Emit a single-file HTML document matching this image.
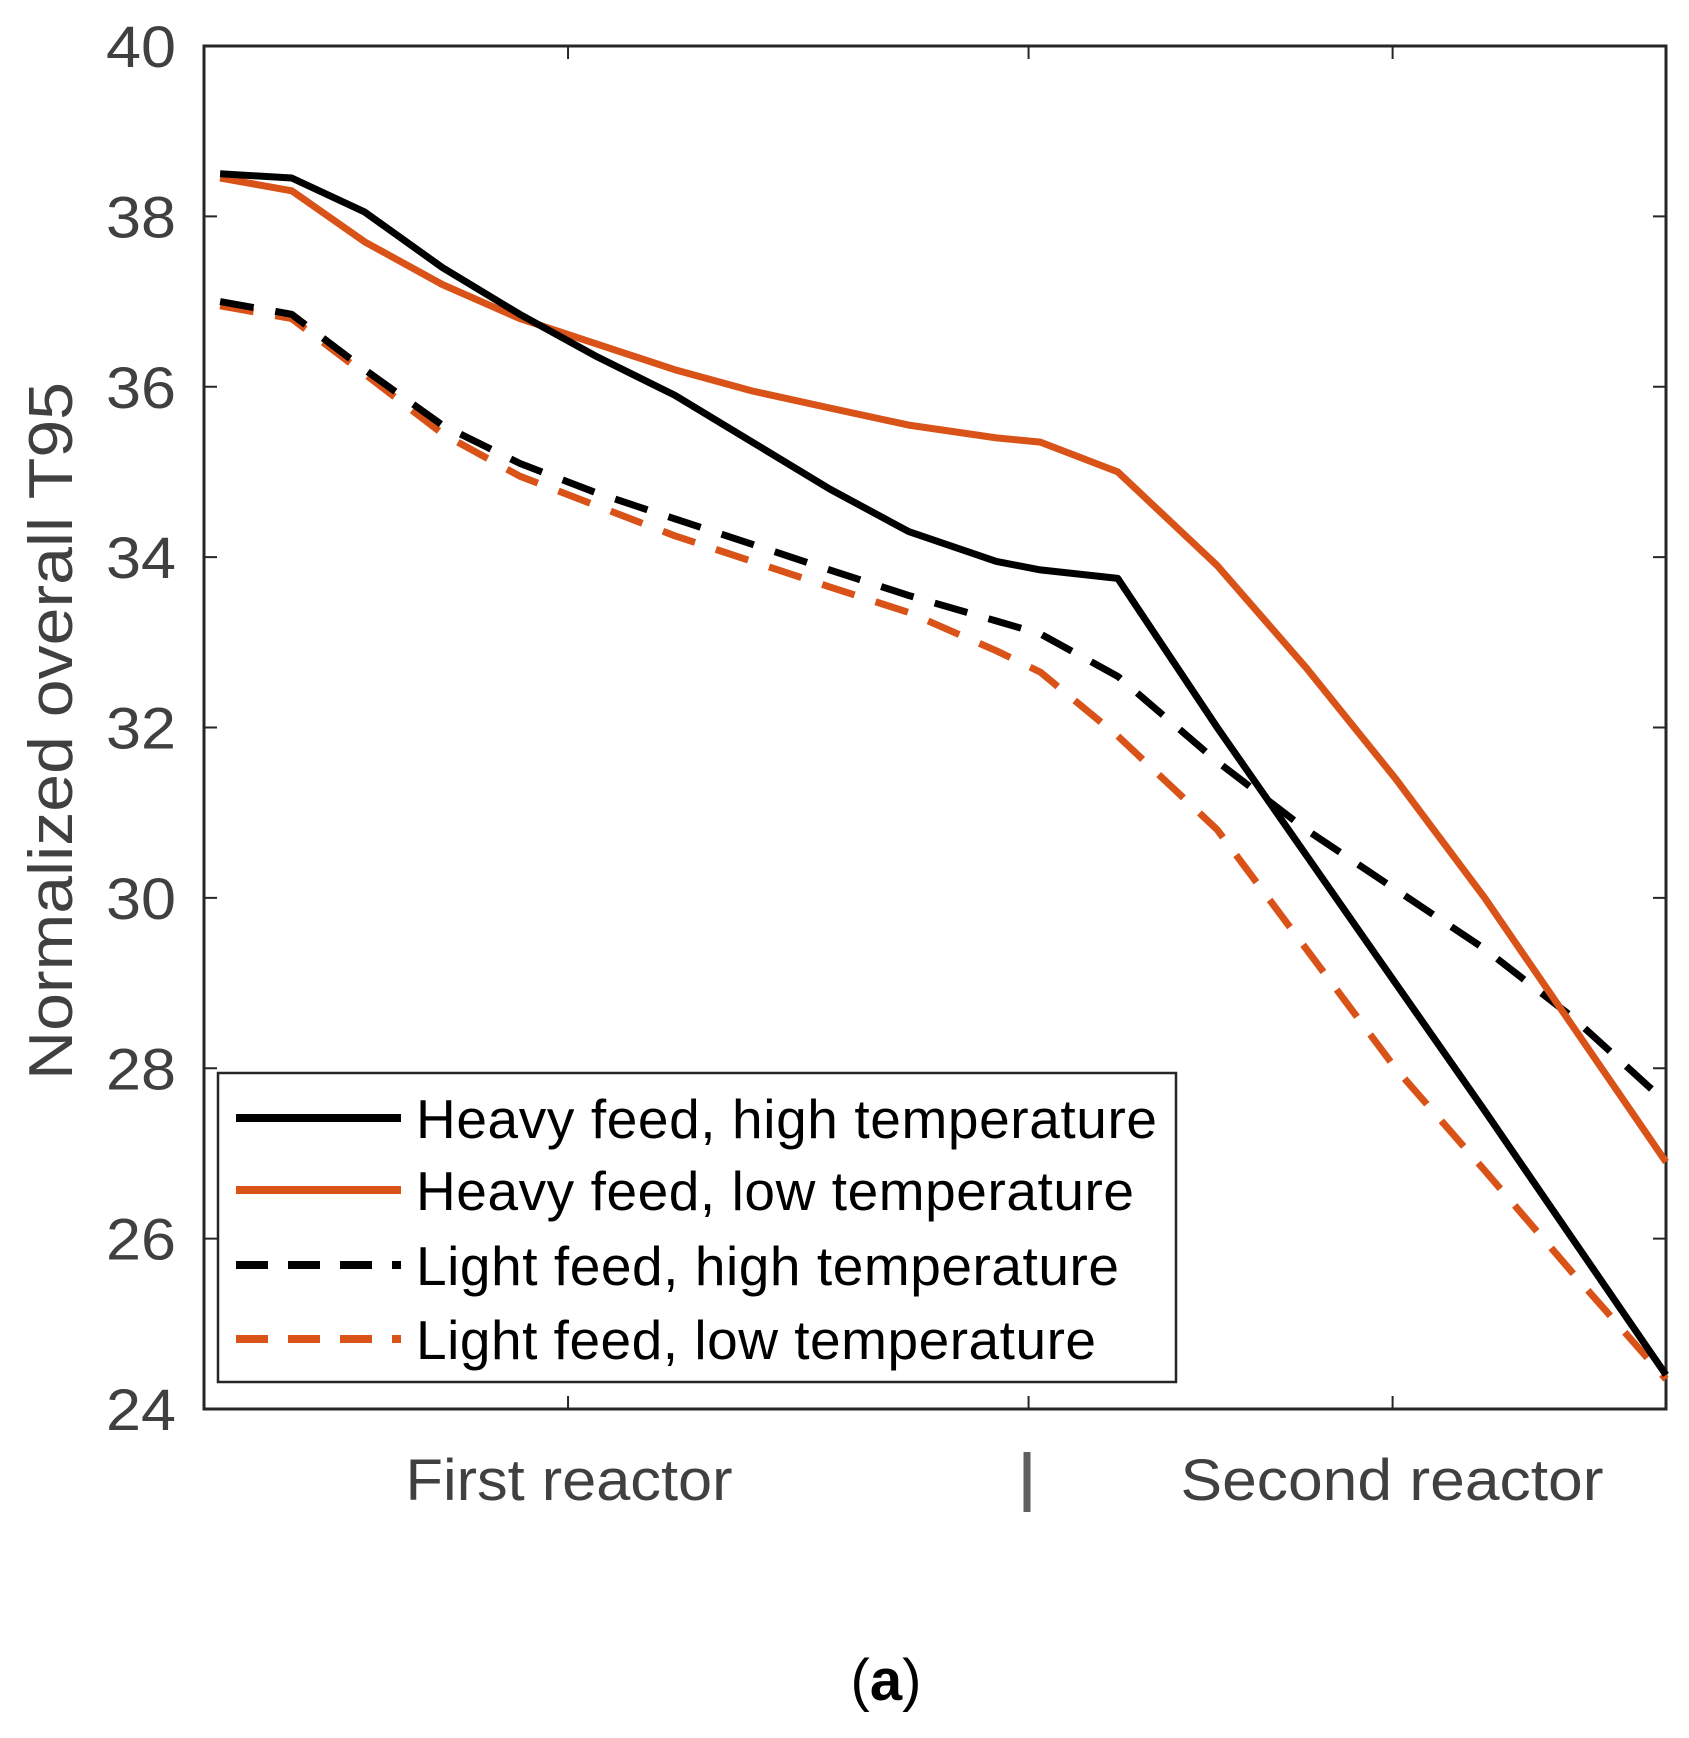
<!DOCTYPE html>
<html><head><meta charset="utf-8"><style>
html,body{margin:0;padding:0;background:#fff}
svg{display:block}
text{font-family:"Liberation Sans",sans-serif}
</style></head><body>
<svg id="chart" width="1689" height="1738" viewBox="0 0 1689 1738" xmlns="http://www.w3.org/2000/svg">
<g id="axes"></g>
<g id="series"></g>
<g id="legend"></g>
</svg>
<script>
// Data (x: position along reactors 0..100, y: normalized T95)
const xPos = [1.1,6.0,11.0,16.3,21.6,26.9,32.2,37.5,42.8,48.2,54.2,57.2,62.5,69.3,75.4,81.5,87.6,93.6,100];
const heavyHigh = [38.5,38.45,38.05,37.4,36.85,36.35,35.9,35.35,34.8,34.3,33.95,33.85,33.75,32.0,30.5,29.0,27.5,26.0,24.4];
const heavyLow = [38.45,38.3,37.7,37.2,36.8,36.5,36.2,35.95,35.75,35.55,35.4,35.35,35.0,33.9,32.7,31.4,30.0,28.5,26.9];
const lightHigh = [37.0,36.85,36.2,35.55,35.1,34.75,34.45,34.15,33.85,33.55,33.25,33.1,32.6,31.6,30.8,30.1,29.4,28.6,27.6];
const lightLow = [36.95,36.8,36.15,35.45,34.95,34.6,34.25,33.95,33.65,33.35,32.9,32.65,31.9,30.8,29.4,28.0,26.8,25.6,24.35];
const yTicks = [24,26,28,30,32,34,36,38,40];
const yTickLabels = ["24","26","28","30","32","34","36","38","40"];
const xTicks = [24.9,56.4,81.3];
const seriesNames = ["Heavy feed, high temperature","Heavy feed, low temperature","Light feed, high temperature","Light feed, low temperature"];

const L=204,R=1666,T=46,B=1409;
const sx=v=>L+(v/100)*(R-L);
const sy=v=>B-(v-24)/16*(B-T);
const NS="http://www.w3.org/2000/svg";
function mk(tag,attrs,parent){const e=document.createElementNS(NS,tag);for(const k in attrs)e.setAttribute(k,attrs[k]);parent.appendChild(e);return e;}
const axes=document.getElementById('axes');
const frame=mk('rect',{x:L,y:T,width:R-L,height:B-T,fill:'none',stroke:'#262626','stroke-width':3},axes);


yTicks.forEach((v,i)=>{
  const y=sy(v);
  const t1=mk('line',{x1:L,x2:L+13,y1:y,y2:y,stroke:'#262626','stroke-width':2},axes);
  
  
  const t2=mk('line',{x1:R-13,x2:R,y1:y,y2:y,stroke:'#262626','stroke-width':2},axes);
  
  
  const lb=mk('text',{x:176,y:y+21,'text-anchor':'end','font-size':58,fill:'#404040',textLength:70,lengthAdjust:'spacingAndGlyphs'},axes);
  lb.textContent=yTickLabels[i];
  
  
});
xTicks.forEach(v=>{
  const x=sx(v);
  const a=mk('line',{x1:x,x2:x,y1:B,y2:B-13,stroke:'#262626','stroke-width':2},axes);
  
  
  const b=mk('line',{x1:x,x2:x,y1:T,y2:T+13,stroke:'#262626','stroke-width':2},axes);
  
  
});
const yt=mk('text',{x:0,y:0,transform:'translate(72,731) rotate(-90)','text-anchor':'middle','font-size':62,fill:'#404040',textLength:698,lengthAdjust:'spacingAndGlyphs'},axes);
yt.textContent='Normalized overall T95';


[["First reactor",569,327,'x-label-first-reactor'],["Second reactor",1392,423,'x-label-second-reactor']].forEach(d=>{
  const t=mk('text',{x:d[1],y:1500,'text-anchor':'middle','font-size':58,fill:'#404040',textLength:d[2],lengthAdjust:'spacingAndGlyphs'},axes);
  t.textContent=d[0];
  
  
});
const sep=mk('line',{x1:1027,x2:1027,y1:1452,y2:1512,stroke:'#606060','stroke-width':7},axes);


const cap=mk('text',{x:886,y:1700,'text-anchor':'middle','font-size':58,fill:'#000','font-family':'Liberation Serif, serif'},axes);
cap.innerHTML='(<tspan font-weight="bold">a</tspan>)';



const styles=[{c:'#000000',d:null},{c:'#D95319',d:null},{c:'#000000',d:'34 22'},{c:'#D95319',d:'34 22'}];
const data=[heavyHigh,heavyLow,lightHigh,lightLow];
const sg=document.getElementById('series');
const names=['line-heavy-high','line-heavy-low','line-light-high','line-light-low'];
[3,2,1,0].forEach(i=>{
  const pts=xPos.map((x,j)=>sx(x).toFixed(1)+','+sy(data[i][j]).toFixed(1)).join(' ');
  const a={points:pts,fill:'none',stroke:styles[i].c,'stroke-width':7,'stroke-linejoin':'round'};
  if(styles[i].d)a['stroke-dasharray']=styles[i].d;
  const p=mk('polyline',a,sg);
  
  
});
const lg=document.getElementById('legend');
const box=mk('rect',{x:218,y:1073,width:958,height:309,fill:'#fff',stroke:'#262626','stroke-width':2.5},lg);


const rows=[1118,1190,1265,1339];
const widths=[741,718,703,680];
seriesNames.forEach((n,i)=>{
  const a={x1:236,x2:401,y1:rows[i],y2:rows[i],stroke:styles[i].c,'stroke-width':8};
  if(styles[i].d)a['stroke-dasharray']='32 20';
  const ln=mk('line',a,lg);
  
  
  const t=mk('text',{x:416,y:rows[i]+20,'font-size':55,fill:'#000',textLength:widths[i],lengthAdjust:'spacing'},lg);
  t.textContent=n;
  
  
});
</script>
</body></html>
